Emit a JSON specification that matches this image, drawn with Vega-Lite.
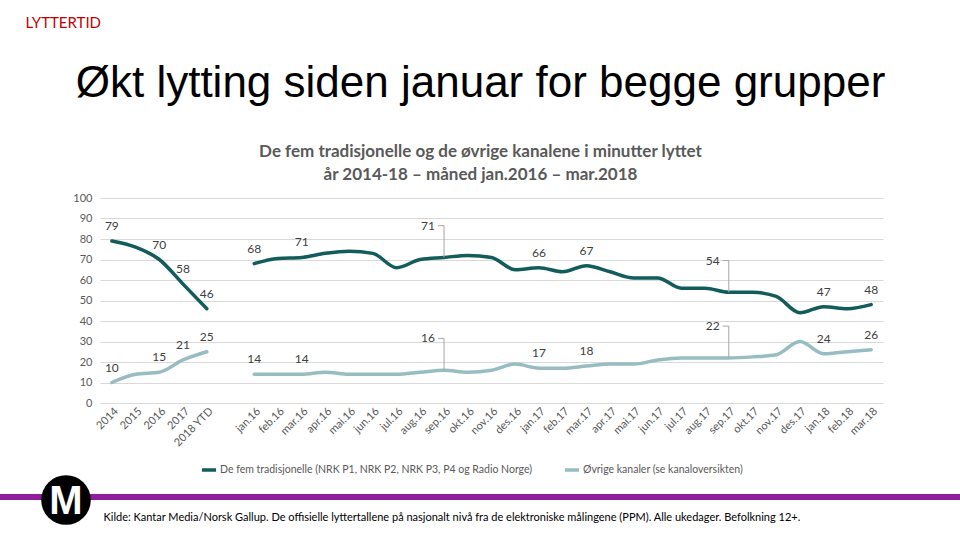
{
  "$schema": "https://vega.github.io/schema/vega-lite/v6.json",
  "width": 783,
  "height": 205,
  "autosize": {"type": "none"},
  "padding": {"left": 100, "top": 198, "right": 77, "bottom": 137},
  "background": "white",
  "title": {
    "text": "Økt lytting siden januar for begge grupper",
    "subtitle": ["De fem tradisjonelle og de øvrige kanalene i minutter lyttet", "år 2014-18 – måned jan.2016 – mar.2018"],
    "anchor": "middle",
    "dx": -11,
    "dy": 168,
    "font": "Liberation Sans",
    "fontSize": 44,
    "fontWeight": "normal",
    "color": "#000000",
    "subtitleFont": "Lato",
    "subtitleFontSize": 17,
    "subtitleFontWeight": "bold",
    "subtitleColor": "#595959",
    "subtitleLineHeight": 23,
    "subtitlePadding": 38,
    "offset": 0
  },
  "config": {
    "view": {"stroke": null},
    "font": "Lato"
  },
  "datasets": {
    "serie": [
      {"kat": "2014", "periode": "år", "serie": "De fem tradisjonelle (NRK P1, NRK P2, NRK P3, P4 og Radio Norge)", "minutter": 79},
      {"kat": "2015", "periode": "år", "serie": "De fem tradisjonelle (NRK P1, NRK P2, NRK P3, P4 og Radio Norge)", "minutter": 76},
      {"kat": "2016", "periode": "år", "serie": "De fem tradisjonelle (NRK P1, NRK P2, NRK P3, P4 og Radio Norge)", "minutter": 70},
      {"kat": "2017", "periode": "år", "serie": "De fem tradisjonelle (NRK P1, NRK P2, NRK P3, P4 og Radio Norge)", "minutter": 58},
      {"kat": "2018 YTD", "periode": "år", "serie": "De fem tradisjonelle (NRK P1, NRK P2, NRK P3, P4 og Radio Norge)", "minutter": 46},
      {"kat": "jan.16", "periode": "måned", "serie": "De fem tradisjonelle (NRK P1, NRK P2, NRK P3, P4 og Radio Norge)", "minutter": 68},
      {"kat": "feb.16", "periode": "måned", "serie": "De fem tradisjonelle (NRK P1, NRK P2, NRK P3, P4 og Radio Norge)", "minutter": 70.5},
      {"kat": "mar.16", "periode": "måned", "serie": "De fem tradisjonelle (NRK P1, NRK P2, NRK P3, P4 og Radio Norge)", "minutter": 71},
      {"kat": "apr.16", "periode": "måned", "serie": "De fem tradisjonelle (NRK P1, NRK P2, NRK P3, P4 og Radio Norge)", "minutter": 73},
      {"kat": "mai.16", "periode": "måned", "serie": "De fem tradisjonelle (NRK P1, NRK P2, NRK P3, P4 og Radio Norge)", "minutter": 74},
      {"kat": "jun.16", "periode": "måned", "serie": "De fem tradisjonelle (NRK P1, NRK P2, NRK P3, P4 og Radio Norge)", "minutter": 73},
      {"kat": "jul.16", "periode": "måned", "serie": "De fem tradisjonelle (NRK P1, NRK P2, NRK P3, P4 og Radio Norge)", "minutter": 66},
      {"kat": "aug.16", "periode": "måned", "serie": "De fem tradisjonelle (NRK P1, NRK P2, NRK P3, P4 og Radio Norge)", "minutter": 70},
      {"kat": "sep.16", "periode": "måned", "serie": "De fem tradisjonelle (NRK P1, NRK P2, NRK P3, P4 og Radio Norge)", "minutter": 71},
      {"kat": "okt.16", "periode": "måned", "serie": "De fem tradisjonelle (NRK P1, NRK P2, NRK P3, P4 og Radio Norge)", "minutter": 72},
      {"kat": "nov.16", "periode": "måned", "serie": "De fem tradisjonelle (NRK P1, NRK P2, NRK P3, P4 og Radio Norge)", "minutter": 71},
      {"kat": "des.16", "periode": "måned", "serie": "De fem tradisjonelle (NRK P1, NRK P2, NRK P3, P4 og Radio Norge)", "minutter": 65},
      {"kat": "jan.17", "periode": "måned", "serie": "De fem tradisjonelle (NRK P1, NRK P2, NRK P3, P4 og Radio Norge)", "minutter": 66},
      {"kat": "feb.17", "periode": "måned", "serie": "De fem tradisjonelle (NRK P1, NRK P2, NRK P3, P4 og Radio Norge)", "minutter": 64},
      {"kat": "mar.17", "periode": "måned", "serie": "De fem tradisjonelle (NRK P1, NRK P2, NRK P3, P4 og Radio Norge)", "minutter": 67},
      {"kat": "apr.17", "periode": "måned", "serie": "De fem tradisjonelle (NRK P1, NRK P2, NRK P3, P4 og Radio Norge)", "minutter": 64},
      {"kat": "mai.17", "periode": "måned", "serie": "De fem tradisjonelle (NRK P1, NRK P2, NRK P3, P4 og Radio Norge)", "minutter": 61},
      {"kat": "jun.17", "periode": "måned", "serie": "De fem tradisjonelle (NRK P1, NRK P2, NRK P3, P4 og Radio Norge)", "minutter": 61},
      {"kat": "jul.17", "periode": "måned", "serie": "De fem tradisjonelle (NRK P1, NRK P2, NRK P3, P4 og Radio Norge)", "minutter": 56},
      {"kat": "aug.17", "periode": "måned", "serie": "De fem tradisjonelle (NRK P1, NRK P2, NRK P3, P4 og Radio Norge)", "minutter": 56},
      {"kat": "sep.17", "periode": "måned", "serie": "De fem tradisjonelle (NRK P1, NRK P2, NRK P3, P4 og Radio Norge)", "minutter": 54},
      {"kat": "okt.17", "periode": "måned", "serie": "De fem tradisjonelle (NRK P1, NRK P2, NRK P3, P4 og Radio Norge)", "minutter": 54},
      {"kat": "nov.17", "periode": "måned", "serie": "De fem tradisjonelle (NRK P1, NRK P2, NRK P3, P4 og Radio Norge)", "minutter": 52},
      {"kat": "des.17", "periode": "måned", "serie": "De fem tradisjonelle (NRK P1, NRK P2, NRK P3, P4 og Radio Norge)", "minutter": 44},
      {"kat": "jan.18", "periode": "måned", "serie": "De fem tradisjonelle (NRK P1, NRK P2, NRK P3, P4 og Radio Norge)", "minutter": 47},
      {"kat": "feb.18", "periode": "måned", "serie": "De fem tradisjonelle (NRK P1, NRK P2, NRK P3, P4 og Radio Norge)", "minutter": 46},
      {"kat": "mar.18", "periode": "måned", "serie": "De fem tradisjonelle (NRK P1, NRK P2, NRK P3, P4 og Radio Norge)", "minutter": 48},
      {"kat": "2014", "periode": "år", "serie": "Øvrige kanaler (se kanaloversikten)", "minutter": 10},
      {"kat": "2015", "periode": "år", "serie": "Øvrige kanaler (se kanaloversikten)", "minutter": 14},
      {"kat": "2016", "periode": "år", "serie": "Øvrige kanaler (se kanaloversikten)", "minutter": 15},
      {"kat": "2017", "periode": "år", "serie": "Øvrige kanaler (se kanaloversikten)", "minutter": 21},
      {"kat": "2018 YTD", "periode": "år", "serie": "Øvrige kanaler (se kanaloversikten)", "minutter": 25},
      {"kat": "jan.16", "periode": "måned", "serie": "Øvrige kanaler (se kanaloversikten)", "minutter": 14},
      {"kat": "feb.16", "periode": "måned", "serie": "Øvrige kanaler (se kanaloversikten)", "minutter": 14},
      {"kat": "mar.16", "periode": "måned", "serie": "Øvrige kanaler (se kanaloversikten)", "minutter": 14},
      {"kat": "apr.16", "periode": "måned", "serie": "Øvrige kanaler (se kanaloversikten)", "minutter": 15},
      {"kat": "mai.16", "periode": "måned", "serie": "Øvrige kanaler (se kanaloversikten)", "minutter": 14},
      {"kat": "jun.16", "periode": "måned", "serie": "Øvrige kanaler (se kanaloversikten)", "minutter": 14},
      {"kat": "jul.16", "periode": "måned", "serie": "Øvrige kanaler (se kanaloversikten)", "minutter": 14},
      {"kat": "aug.16", "periode": "måned", "serie": "Øvrige kanaler (se kanaloversikten)", "minutter": 15},
      {"kat": "sep.16", "periode": "måned", "serie": "Øvrige kanaler (se kanaloversikten)", "minutter": 16},
      {"kat": "okt.16", "periode": "måned", "serie": "Øvrige kanaler (se kanaloversikten)", "minutter": 15},
      {"kat": "nov.16", "periode": "måned", "serie": "Øvrige kanaler (se kanaloversikten)", "minutter": 16},
      {"kat": "des.16", "periode": "måned", "serie": "Øvrige kanaler (se kanaloversikten)", "minutter": 19},
      {"kat": "jan.17", "periode": "måned", "serie": "Øvrige kanaler (se kanaloversikten)", "minutter": 17},
      {"kat": "feb.17", "periode": "måned", "serie": "Øvrige kanaler (se kanaloversikten)", "minutter": 17},
      {"kat": "mar.17", "periode": "måned", "serie": "Øvrige kanaler (se kanaloversikten)", "minutter": 18},
      {"kat": "apr.17", "periode": "måned", "serie": "Øvrige kanaler (se kanaloversikten)", "minutter": 19},
      {"kat": "mai.17", "periode": "måned", "serie": "Øvrige kanaler (se kanaloversikten)", "minutter": 19},
      {"kat": "jun.17", "periode": "måned", "serie": "Øvrige kanaler (se kanaloversikten)", "minutter": 21},
      {"kat": "jul.17", "periode": "måned", "serie": "Øvrige kanaler (se kanaloversikten)", "minutter": 22},
      {"kat": "aug.17", "periode": "måned", "serie": "Øvrige kanaler (se kanaloversikten)", "minutter": 22},
      {"kat": "sep.17", "periode": "måned", "serie": "Øvrige kanaler (se kanaloversikten)", "minutter": 22},
      {"kat": "okt.17", "periode": "måned", "serie": "Øvrige kanaler (se kanaloversikten)", "minutter": 22.5},
      {"kat": "nov.17", "periode": "måned", "serie": "Øvrige kanaler (se kanaloversikten)", "minutter": 23.5},
      {"kat": "des.17", "periode": "måned", "serie": "Øvrige kanaler (se kanaloversikten)", "minutter": 30},
      {"kat": "jan.18", "periode": "måned", "serie": "Øvrige kanaler (se kanaloversikten)", "minutter": 24},
      {"kat": "feb.18", "periode": "måned", "serie": "Øvrige kanaler (se kanaloversikten)", "minutter": 25},
      {"kat": "mar.18", "periode": "måned", "serie": "Øvrige kanaler (se kanaloversikten)", "minutter": 26}
    ]
  },
  "layer": [
    {
      "data": {"values": [{}]},
      "layer": [
        {
          "mark": {"type": "rule", "color": "#8E1E9E", "strokeWidth": 6},
          "encoding": {"x": {"value": -100}, "x2": {"value": 860}, "y": {"value": 299}}
        },
        {
          "mark": {"type": "point", "filled": true, "color": "#000000", "opacity": 1, "size": 2460},
          "encoding": {"x": {"value": -34}, "y": {"value": 302}}
        },
        {
          "mark": {"type": "text", "text": "M", "color": "#FFFFFF", "font": "Liberation Sans", "fontWeight": "bold", "fontSize": 40, "baseline": "middle", "align": "center"},
          "encoding": {"x": {"value": -34}, "y": {"value": 304}}
        }
      ]
    },
    {
      "data": {"name": "serie"},
      "encoding": {
        "x": {
          "field": "kat",
          "type": "nominal",
          "sort": null,
          "scale": {
            "type": "point",
            "padding": 0.5,
            "domain": ["2014", "2015", "2016", "2017", "2018 YTD", " ", "jan.16", "feb.16", "mar.16", "apr.16", "mai.16", "jun.16", "jul.16", "aug.16", "sep.16", "okt.16", "nov.16", "des.16", "jan.17", "feb.17", "mar.17", "apr.17", "mai.17", "jun.17", "jul.17", "aug.17", "sep.17", "okt.17", "nov.17", "des.17", "jan.18", "feb.18", "mar.18"]
          },
          "axis": {
            "title": "Kilde: Kantar Media/Norsk Gallup. De offisielle lyttertallene på nasjonalt nivå fra de elektroniske målingene (PPM). Alle ukedager. Befolkning 12+.",
            "titleFont": "Lato",
            "titleFontSize": 11,
            "titleFontWeight": "normal",
            "titleColor": "#000000",
            "titleAnchor": "start",
            "titleAlign": "left",
            "titleBaseline": "middle",
            "titleX": 3,
            "titleY": 114,
            "labelAngle": -45,
            "labelFont": "Lato",
            "labelFontSize": 11,
            "labelColor": "#595959",
            "labelPadding": 2,
            "ticks": false,
            "domain": false,
            "grid": false
          }
        },
        "y": {
          "field": "minutter",
          "type": "quantitative",
          "scale": {"domain": [0, 100], "nice": false},
          "axis": {
            "title": "LYTTERTID",
            "titleFont": "Lato",
            "titleFontSize": 15,
            "titleFontWeight": "normal",
            "titleColor": "#C00000",
            "titleAngle": 0,
            "titleAlign": "left",
            "titleBaseline": "middle",
            "titleX": -75,
            "titleY": -176,
            "values": [0, 10, 20, 30, 40, 50, 60, 70, 80, 90, 100],
            "labelFont": "Lato",
            "labelFontSize": 11,
            "labelColor": "#595959",
            "labelPadding": 8,
            "ticks": false,
            "domain": false,
            "gridColor": "#D9D9D9",
            "gridWidth": 1
          }
        }
      },
      "layer": [
        {
          "mark": {"type": "line", "interpolate": "monotone", "strokeWidth": 3.5, "strokeCap": "round"},
          "encoding": {
            "detail": {"field": "periode"},
            "color": {
              "field": "serie",
              "type": "nominal",
              "scale": {"range": ["#125C5B", "#97BCC2"]},
              "legend": {
                "title": null,
                "orient": "none",
                "direction": "horizontal",
                "legendX": 100,
                "legendY": 263,
                "symbolType": "stroke",
                "symbolStrokeWidth": 3.5,
                "symbolSize": 200,
                "labelFont": "Lato",
                "labelFontSize": 10.5,
                "labelColor": "#595959",
                "labelLimit": 0,
                "columnPadding": 24,
                "labelOffset": 2
              }
            }
          }
        },
        {
          "transform": [{"filter": "indexof(['2014','2016','2017','2018 YTD','jan.16','mar.16','jan.17','mar.17','jan.18','mar.18'], datum.kat) >= 0"}],
          "mark": {"type": "text", "dy": -15, "font": "Lato", "fontSize": 12, "color": "#404040"},
          "encoding": {"text": {"field": "minutter", "type": "quantitative", "format": "d"}}
        },
        {
          "transform": [
            {"filter": "datum.kat == 'sep.16' || datum.kat == 'sep.17'"},
            {"calculate": "datum.minutter + 15.5", "as": "etikettY"}
          ],
          "mark": {"type": "rule", "color": "#A6A6A6", "strokeWidth": 1},
          "encoding": {"y2": {"field": "etikettY"}}
        },
        {
          "transform": [
            {"filter": "datum.kat == 'sep.16' || datum.kat == 'sep.17'"},
            {"calculate": "datum.minutter + 15.5", "as": "etikettY"}
          ],
          "mark": {"type": "rule", "color": "#A6A6A6", "strokeWidth": 1, "xOffset": -6},
          "encoding": {"y": {"field": "etikettY", "type": "quantitative"}, "x2": {"field": "kat"}}
        },
        {
          "transform": [
            {"filter": "datum.kat == 'sep.16' || datum.kat == 'sep.17'"},
            {"calculate": "datum.minutter + 15.5", "as": "etikettY"}
          ],
          "mark": {"type": "text", "dx": -16, "font": "Lato", "fontSize": 12, "color": "#404040"},
          "encoding": {"y": {"field": "etikettY", "type": "quantitative"}, "text": {"field": "minutter", "type": "quantitative", "format": "d"}}
        }
      ]
    }
  ]
}
